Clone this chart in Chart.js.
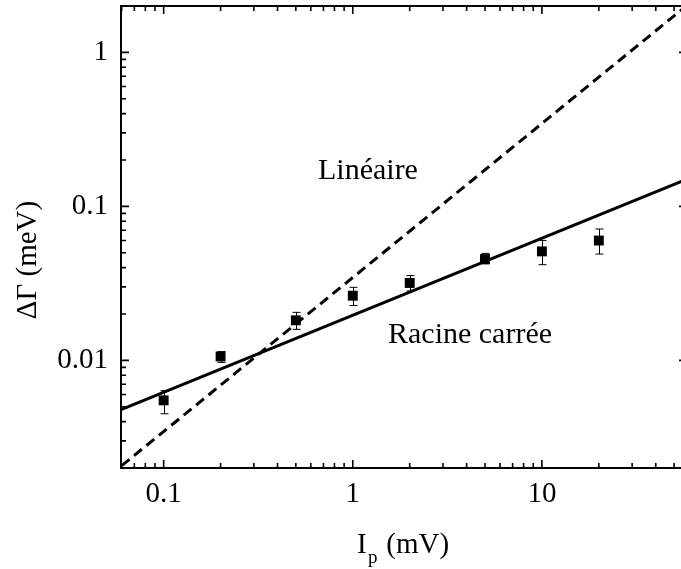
<!DOCTYPE html>
<html>
<head>
<meta charset="utf-8">
<script src="https://cdn.jsdelivr.net/npm/chart.js@4"></script>
<style>
  html, body { margin: 0; padding: 0; background: #fff; overflow: hidden; }
  #wrap { width: 681px; height: 569px; overflow: hidden; position: relative; }
  #chart { display: block; position: absolute; left: 0; top: 0; width: 688px; height: 569px; }
</style>
</head>
<body>
<div id="wrap"><canvas id="chart" width="688" height="569"></canvas></div>
<script>
// measured points
const currents = [0.1, 0.2, 0.5, 1, 2, 5, 10, 20];
const widths = [0.0055, 0.0106, 0.0182, 0.0263, 0.0318, 0.0455, 0.051, 0.060];
const widthsLow = [0.0045, 0.0097, 0.0159, 0.0227, 0.0282, 0.0423, 0.0418, 0.049];
const widthsHigh = [0.00635, 0.0114, 0.0205, 0.0298, 0.0355, 0.0495, 0.0601, 0.0713];

// fit lines (end points)
const sqrtFitX = [0.06, 58.5];
const sqrtFitY = [0.0048, 0.15];
const linFitX = [0.06, 58.5];
const linFitY = [0.00207, 2.02];

const xTickValues = [0.1, 1, 10];
const yTickValues = [0.01, 0.1, 1];

const X_MIN = 0.0595, X_MAX = 58.5;
const Y_MIN = 0.002, Y_MAX = 2.0;
const SERIF = '"Liberation Serif", "Times New Roman", serif';

const pts = (xs, ys) => xs.map((x, i) => ({ x: x, y: ys[i] }));

const framePlugin = {
    id: 'frame',
    afterDatasetsDraw(chart) {
        const { ctx, chartArea: a, scales: { x, y } } = chart;
        ctx.save();
        ctx.strokeStyle = '#000';

        // error bars
        ctx.lineWidth = 1;
        currents.forEach((v, i) => {
            const px = Math.round(x.getPixelForValue(v)) + 0.5;
            const lo = y.getPixelForValue(widthsLow[i]);
            const hi = y.getPixelForValue(widthsHigh[i]);
            ctx.beginPath();
            ctx.moveTo(px, lo); ctx.lineTo(px, hi);
            ctx.moveTo(px - 4, lo); ctx.lineTo(px + 4, lo);
            ctx.moveTo(px - 4, hi); ctx.lineTo(px + 4, hi);
            ctx.stroke();
        });

        // box
        ctx.lineWidth = 2;
        ctx.strokeRect(a.left, a.top, a.right - a.left, a.bottom - a.top);

        // inward ticks on all sides
        ctx.lineWidth = 1.6;
        for (let d = -3; d <= 2; d++) {
            for (let m = 1; m <= 9; m++) {
                const v = m * Math.pow(10, d);
                const len = m === 1 ? 8 : 5;
                if (v >= X_MIN && v <= X_MAX) {
                    const px = x.getPixelForValue(v);
                    ctx.beginPath();
                    ctx.moveTo(px, a.bottom); ctx.lineTo(px, a.bottom - len);
                    ctx.moveTo(px, a.top); ctx.lineTo(px, a.top + len);
                    ctx.stroke();
                }
                if (v >= Y_MIN && v <= Y_MAX) {
                    const py = y.getPixelForValue(v);
                    ctx.beginPath();
                    ctx.moveTo(a.left, py); ctx.lineTo(a.left + len, py);
                    ctx.moveTo(a.right, py); ctx.lineTo(a.right - len, py);
                    ctx.stroke();
                }
            }
        }

        // labels
        ctx.fillStyle = '#000';
        ctx.font = '30px ' + SERIF;
        ctx.textBaseline = 'alphabetic';
        ctx.textAlign = 'left';
        ctx.fillText('Linéaire', 318, 179);
        ctx.fillText('Racine carrée', 388, 343);

        // x title with subscript
        ctx.font = '29px ' + SERIF;
        ctx.fillText('I', 357, 553);
        ctx.font = '19px ' + SERIF;
        ctx.fillText('p', 368, 563);
        ctx.font = '29px ' + SERIF;
        ctx.fillText(' (mV)', 379, 553);

        // y title
        ctx.translate(28, 260);
        ctx.rotate(-Math.PI / 2);
        ctx.textAlign = 'center';
        ctx.textBaseline = 'middle';
        ctx.fillText('ΔΓ (meV)', 0, 0);
        ctx.restore();
    }
};

new Chart('chart', {
    type: 'scatter',
    data: {
        datasets: [
            {
                label: 'Racine carrée',
                data: pts(sqrtFitX, sqrtFitY),
                showLine: true,
                borderColor: '#000',
                borderWidth: 3,
                pointRadius: 0,
                clip: 0,
            },
            {
                label: 'Linéaire',
                data: pts(linFitX, linFitY),
                showLine: true,
                borderColor: '#000',
                borderWidth: 3,
                borderDash: [10, 6],
                pointRadius: 0,
                clip: 0,
            },
            {
                label: 'Mesures',
                data: pts(currents, widths),
                pointStyle: 'rect',
                pointRadius: 7,
                backgroundColor: '#000',
                borderColor: '#000',
                borderWidth: 0,
            }
        ]
    },
    options: {
        responsive: false,
        animation: false,
        devicePixelRatio: 1,
        layout: { autoPadding: false, padding: { top: 6, right: 1, left: 0, bottom: 0 } },
        plugins: {
            legend: { display: false },
            tooltip: { enabled: false }
        },
        scales: {
            x: {
                type: 'logarithmic',
                min: X_MIN,
                max: X_MAX,
                grid: { display: false, drawTicks: false },
                border: { display: false },
                afterBuildTicks: scale => { scale.ticks = xTickValues.map(v => ({ value: v })); },
                afterFit: scale => {
                    scale.height = 101;
                    scale.paddingLeft = 0; scale.paddingRight = 0;
                },
                ticks: {
                    padding: 9,
                    color: '#000',
                    font: { family: SERIF, size: 29 },
                    callback: v => String(v)
                }
            },
            y: {
                type: 'logarithmic',
                min: Y_MIN,
                max: Y_MAX,
                grid: { display: false, drawTicks: false },
                border: { display: false },
                afterBuildTicks: scale => { scale.ticks = yTickValues.map(v => ({ value: v })); },
                afterFit: scale => {
                    scale.width = 121;
                    scale.paddingTop = 0; scale.paddingBottom = 0;
                },
                ticks: {
                    padding: 13,
                    color: '#000',
                    font: { family: SERIF, size: 29 },
                    callback: v => String(v)
                }
            }
        }
    },
    plugins: [framePlugin]
});
</script>
</body>
</html>
